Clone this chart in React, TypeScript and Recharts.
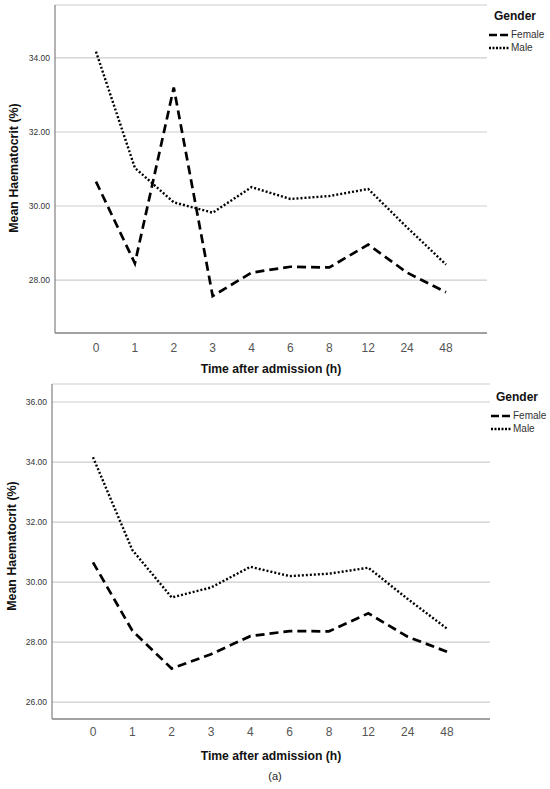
import React from "react";
import { LineChart, Line, XAxis, YAxis, CartesianGrid } from "recharts";

// time points (hours after admission)
const hours = ["0", "1", "2", "3", "4", "6", "8", "12", "24", "48"];

// upper panel
const femaleTop = [30.66, 28.45, 33.2, 27.57, 28.2, 28.36, 28.34, 28.96, 28.2, 27.67];
const maleTop = [34.17, 31.03, 30.1, 29.82, 30.51, 30.19, 30.27, 30.46, 29.42, 28.42];
const ticksTop = [28, 30, 32, 34];

// lower panel
const femaleBottom = [30.66, 28.38, 27.12, 27.6, 28.2, 28.37, 28.36, 28.96, 28.18, 27.68];
const maleBottom = [34.16, 31.07, 29.49, 29.82, 30.51, 30.2, 30.28, 30.48, 29.44, 28.45];
const ticksBottom = [26, 28, 30, 32, 34, 36];

const series = [
  { key: "female", name: "Female", dash: "9 5", width: 2.7 },
  { key: "male", name: "Male", dash: "2 2", width: 2.4 },
];

const FONT = '"Liberation Sans", Arial, sans-serif';

type PanelProps = {
  top: number;
  height: number;
  female: number[];
  male: number[];
  domain: [number, number];
  ticks: number[];
  margin: { top: number; right: number; bottom: number; left: number };
  padding: { left: number; right: number };
  tickMarginX: number;
  xTitleY: number;
  xTitleX: number;
  yTitleX: number;
  yTitleY: number;
  legendX: number;
  legendY: number;
};

const Legend: React.FC<{ x: number; y: number }> = ({ x, y }) => (
  <div style={{ position: "absolute", left: x, top: y, fontFamily: FONT }}>
    <div style={{ fontWeight: "bold", fontSize: 12, color: "#111", marginLeft: 5, lineHeight: "14px" }}>
      Gender
    </div>
    <div style={{ height: 5 }} />
    {series.map((s) => (
      <div key={s.key} style={{ display: "flex", alignItems: "center", height: 13 }}>
        <svg width={20} height={6}>
          <line x1={0} y1={3} x2={20} y2={3} stroke="#000" strokeWidth={s.width} strokeDasharray={s.key === "female" ? "8 3" : "2 1.5"} />
        </svg>
        <span style={{ fontSize: 10, color: "#333", marginLeft: 2 }}>{s.name}</span>
      </div>
    ))}
  </div>
);

const Panel: React.FC<PanelProps> = (p) => {
  const data = hours.map((h, i) => ({ hour: h, female: p.female[i], male: p.male[i] }));
  return (
    <div style={{ position: "absolute", left: 0, top: p.top, width: 550, height: p.height }}>
      <LineChart width={550} height={p.height} data={data} margin={p.margin}>
        <CartesianGrid vertical={false} stroke="#cdcdcd" strokeWidth={1.2} />
        <XAxis
          dataKey="hour"
          padding={p.padding}
          tickLine={false}
          tickSize={0}
          tickMargin={p.tickMarginX}
          height={30}
          axisLine={{ stroke: "#8a8a8a", strokeWidth: 1.3 }}
          tick={{ fontSize: 12, fill: "#555", fontFamily: FONT }}
          interval={0}
        />
        <YAxis
          domain={p.domain}
          ticks={p.ticks}
          width={45}
          tickLine={false}
          tickSize={0}
          tickMargin={5}
          allowDataOverflow
          axisLine={{ stroke: "#8a8a8a", strokeWidth: 1.3 }}
          tick={{ fontSize: 8.5, fill: "#333", fontFamily: FONT }}
          tickFormatter={(v: number) => v.toFixed(2)}
        />
        {series.map((s) => (
          <Line
            key={s.key}
            dataKey={s.key}
            name={s.name}
            type="linear"
            stroke="#000"
            strokeWidth={s.width}
            strokeDasharray={s.dash}
            dot={false}
            activeDot={false}
            isAnimationActive={false}
          />
        ))}
      </LineChart>
      <div
        style={{
          position: "absolute",
          left: p.xTitleX - 150,
          width: 300,
          top: p.xTitleY - 8,
          textAlign: "center",
          fontFamily: FONT,
          fontWeight: "bold",
          fontSize: 12.2,
          color: "#111",
        }}
      >
        Time after admission (h)
      </div>
      <div
        style={{
          position: "absolute",
          left: p.yTitleX - 100,
          top: p.yTitleY - 8,
          width: 200,
          textAlign: "center",
          transform: "rotate(-90deg)",
          fontFamily: FONT,
          fontWeight: "bold",
          fontSize: 12.4,
          color: "#111",
        }}
      >
        Mean Haematocrit (%)
      </div>
      <Legend x={p.legendX} y={p.legendY} />
    </div>
  );
};

export default function App() {
  return (
    <div style={{ position: "absolute", left: 0, top: 0, width: 550, height: 789, background: "#fff", overflow: "hidden" }}>
      <Panel
        top={0}
        height={380}
        female={femaleTop}
        male={maleTop}
        domain={[26.57, 35.43]}
        ticks={ticksTop}
        margin={{ top: 5, right: 63, bottom: 17, left: 10 }}
        padding={{ left: 41, right: 41 }}
        tickMarginX={10}
        xTitleX={271}
        xTitleY={370}
        yTitleX={14}
        yTitleY={169}
        legendX={489}
        legendY={9}
      />
      <Panel
        top={380}
        height={409}
        female={femaleBottom}
        male={maleBottom}
        domain={[25.44, 36.6]}
        ticks={ticksBottom}
        margin={{ top: 4, right: 60, bottom: 40, left: 7 }}
        padding={{ left: 41, right: 43 }}
        tickMarginX={8.5}
        xTitleX={271}
        xTitleY={377}
        yTitleX={12}
        yTitleY={167}
        legendX={491}
        legendY={10}
      />
      <div
        style={{
          position: "absolute",
          left: 0,
          width: 550,
          top: 770,
          textAlign: "center",
          fontFamily: FONT,
          fontSize: 11,
          color: "#222",
        }}
      >
        (a)
      </div>
    </div>
  );
}
